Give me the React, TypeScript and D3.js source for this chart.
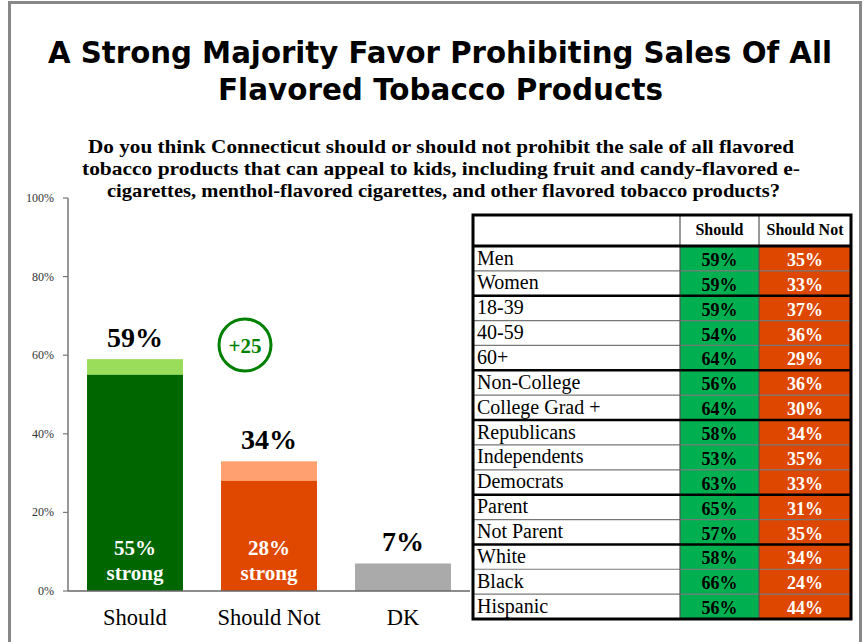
import React from "react";
import * as d3 from "d3";

const categories = ["Should", "Should Not", "DK"];
const strongValues = [55, 28, 0];
const totalValues = [59, 33, 7];
const totalLabels = ["59%", "34%", "7%"];
const strongLabels = ["55%", "28%", ""];
const yTicks = [0, 20, 40, 60, 80, 100];

const groups = ["Men", "Women", "18-39", "40-59", "60+", "Non-College", "College Grad +", "Republicans", "Independents", "Democrats", "Parent", "Not Parent", "White", "Black", "Hispanic"];
const shouldVals = [59, 59, 59, 54, 64, 56, 64, 58, 53, 63, 65, 57, 58, 66, 56];
const shouldNotVals = [35, 33, 37, 36, 29, 36, 30, 34, 35, 33, 31, 35, 34, 24, 44];
const groupBreaks = [2, 5, 7, 10, 12];

const titleLines = ["A Strong Majority Favor Prohibiting Sales Of All", "Flavored Tobacco Products"];
const subtitleLines = [
  "Do you think Connecticut should or should not prohibit the sale of all flavored",
  "tobacco products that can appeal to kids, including fruit and candy-flavored e-",
  "cigarettes, menthol-flavored cigarettes, and other flavored tobacco products?",
];

const SERIF = "'Liberation Serif', 'Times New Roman', serif";
const SANS = "'DejaVu Sans', Verdana, sans-serif";

export default function App() {
  const W = 864, H = 642;
  const y = d3.scaleLinear().domain([0, 100]).range([591, 198]);
  const x = d3.scaleBand().domain(categories).range([68, 470]).padding(0);
  const barW = x.bandwidth() * 0.716;
  const darkCols = ["#006600", "#E04800", "#AAAAAA"];
  const lightCols = ["#9ADD5A", "#FFA070", "#AAAAAA"];

  const tX = d3.scaleLinear().domain([0, 1]).range([473, 851]);
  const colX = [473, 680, 759, 851];
  const headerTop = 215, headerBot = 246, tableBot = 619;
  const rowY = d3.scaleLinear().domain([0, groups.length]).range([headerBot, tableBot]);
  const rowH = rowY(1) - rowY(0);

  const titleWidths = [784, 445];
  const subWidths = [706, 718, 673];
  const subX = [88, 82, 107];
  const titleX = [48, 218];

  return (
    <svg width={W} height={H} style={{ display: "block", position: "absolute", left: 0, top: 0 }}>
      <rect x={0} y={0} width={W} height={H} fill="#fff" />
      <rect x={9.5} y={2.5} width={851} height={660} fill="none" stroke="#888" strokeWidth={3} />

      {titleLines.map((t, i) => (
        <text key={i} x={titleX[i]} y={63 + i * 37} fontFamily={SANS} fontWeight="bold" fontSize={30}
          textLength={titleWidths[i]} lengthAdjust="spacingAndGlyphs" fill="#000">{t}</text>
      ))}
      {subtitleLines.map((t, i) => (
        <text key={i} x={subX[i]} y={153 + i * 22} fontFamily={SERIF} fontWeight="bold" fontSize={19}
          textLength={subWidths[i]} lengthAdjust="spacingAndGlyphs" fill="#000">{t}</text>
      ))}

      {/* y axis */}
      <line x1={68} x2={68} y1={y(100)} y2={y(0)} stroke="#777" strokeWidth={1.5} />
      {yTicks.map((t) => (
        <g key={t}>
          <line x1={63} x2={68} y1={y(t)} y2={y(t)} stroke="#777" strokeWidth={1.2} />
          <text x={54} y={y(t) + 4} textAnchor="end" fontFamily={SERIF} fontSize={12} fill="#333">{t}%</text>
        </g>
      ))}

      {/* bars */}
      {categories.map((c, i) => {
        const cx = (x(c) as number) + x.bandwidth() / 2;
        const x0 = cx - barW / 2;
        return (
          <g key={c}>
            <rect x={x0} width={barW} y={y(totalValues[i])} height={y(0) - y(totalValues[i])} fill={lightCols[i]} />
            {strongValues[i] > 0 && (
              <rect x={x0} width={barW} y={y(strongValues[i])} height={y(0) - y(strongValues[i])} fill={darkCols[i]} />
            )}
            <text x={cx} y={y(totalValues[i]) - 12} textAnchor="middle" fontFamily={SERIF} fontWeight="bold" fontSize={28} fill="#000">{totalLabels[i]}</text>
            {strongLabels[i] && (
              <>
                <text x={cx} y={555} textAnchor="middle" fontFamily={SERIF} fontWeight="bold" fontSize={21} fill="#fff">{strongLabels[i]}</text>
                <text x={cx} y={580} textAnchor="middle" fontFamily={SERIF} fontWeight="bold" fontSize={21} fill="#fff">strong</text>
              </>
            )}
            <text x={cx} y={625} textAnchor="middle" fontFamily={SERIF} fontSize={22.5} fill="#000">{c}</text>
          </g>
        );
      })}
      <line x1={68} x2={470} y1={y(0)} y2={y(0)} stroke="#666" strokeWidth={1.5} />

      {/* +25 circle */}
      <circle cx={245} cy={345} r={26} fill="none" stroke="#008000" strokeWidth={3} />
      <text x={245} y={353} textAnchor="middle" fontFamily={SERIF} fontWeight="bold" fontSize={21} fill="#008000">+{totalValues[0] - 34}</text>

      {/* table */}
      <g>
        {groups.map((g, i) => {
          const top = rowY(i);
          return (
            <g key={g}>
              <rect x={colX[0]} y={top} width={colX[1] - colX[0]} height={rowH} fill="#fff" />
              <rect x={colX[1]} y={top} width={colX[2] - colX[1]} height={rowH} fill="#00B050" />
              <rect x={colX[2]} y={top} width={colX[3] - colX[2]} height={rowH} fill="#DD4700" />
              <text x={477} y={top + 18.5} fontFamily={SERIF} fontSize={20} fill="#000">{g}</text>
              <text x={(colX[1] + colX[2]) / 2} y={top + 20} textAnchor="middle" fontFamily={SERIF} fontWeight="bold" fontSize={18} fill="#000">{shouldVals[i]}%</text>
              <text x={(colX[2] + colX[3]) / 2} y={top + 20} textAnchor="middle" fontFamily={SERIF} fontWeight="bold" fontSize={18} fill="#fff">{shouldNotVals[i]}%</text>
            </g>
          );
        })}
        {groups.map((g, i) =>
          i > 0 && !groupBreaks.includes(i) ? (
            <line key={"h" + i} x1={colX[0]} x2={colX[3]} y1={rowY(i)} y2={rowY(i)} stroke="#777" strokeWidth={1.2} />
          ) : null
        )}
        {[colX[1], colX[2]].map((cx) => (
          <line key={"v" + cx} x1={cx} x2={cx} y1={headerTop} y2={tableBot} stroke="#555" strokeWidth={1.2} />
        ))}
        {groupBreaks.map((b) => (
          <line key={"g" + b} x1={colX[0]} x2={colX[3]} y1={rowY(b)} y2={rowY(b)} stroke="#000" strokeWidth={2.5} />
        ))}
        <line x1={colX[0]} x2={colX[3]} y1={headerBot} y2={headerBot} stroke="#000" strokeWidth={3} />
        <text x={(colX[1] + colX[2]) / 2} y={235} textAnchor="middle" fontFamily={SERIF} fontWeight="bold" fontSize={16} fill="#000">Should</text>
        <text x={(colX[2] + colX[3]) / 2} y={235} textAnchor="middle" fontFamily={SERIF} fontWeight="bold" fontSize={16} fill="#000">Should Not</text>
        <rect x={tX(0)} y={headerTop} width={tX(1) - tX(0)} height={tableBot - headerTop} fill="none" stroke="#000" strokeWidth={3} />
      </g>
    </svg>
  );
}
